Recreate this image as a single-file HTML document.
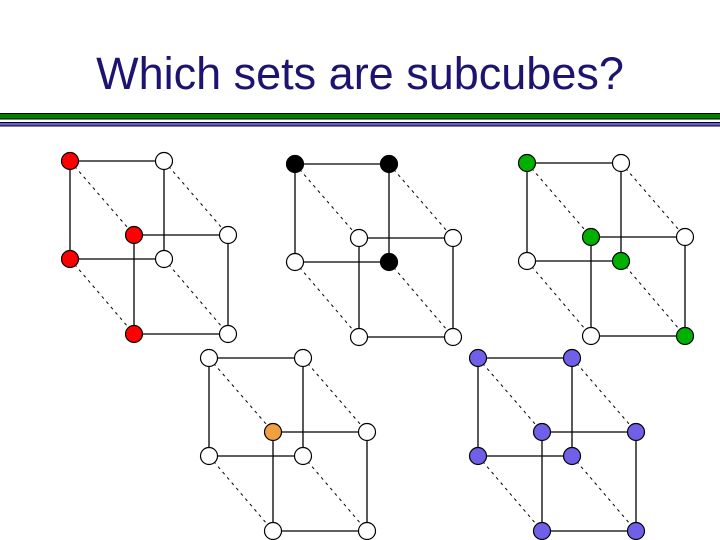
<!DOCTYPE html>
<html><head><style>
body{margin:0;width:720px;height:540px;background:#fff;overflow:hidden;position:relative;font-family:"Liberation Sans",sans-serif}
.t{position:absolute;left:0;width:720px;top:48px;text-align:center;font-size:45px;color:#1c1470;line-height:52px}
</style></head><body>
<div class="t">Which sets are subcubes?</div>
<svg width="720" height="540" style="position:absolute;left:0;top:0">
<rect x="-2" y="113.5" width="724" height="5.5" fill="#008000" stroke="#000" stroke-width="1"/>
<rect x="-2" y="122.5" width="724" height="3.5" fill="#6a5ae0" stroke="#000" stroke-width="1"/>
<defs>
<g id="c" stroke="#000" stroke-width="1.3" fill="none">
<line x1="70" y1="161" x2="164" y2="161"/><line x1="70" y1="161" x2="70" y2="259"/>
<line x1="70" y1="259" x2="164" y2="259"/><line x1="164" y1="161" x2="164" y2="259"/>
<line x1="134" y1="235" x2="228" y2="235"/><line x1="134" y1="235" x2="134" y2="334"/>
<line x1="134" y1="334" x2="228" y2="334"/><line x1="228" y1="235" x2="228" y2="334"/>
<g stroke-dasharray="3,4" stroke-width="1">
<line x1="70" y1="161" x2="134" y2="235"/><line x1="164" y1="161" x2="228" y2="235"/>
<line x1="70" y1="259" x2="134" y2="334"/><line x1="164" y1="259" x2="228" y2="334"/>
</g></g>
</defs>
<g stroke="#000" stroke-width="1.2">
<g><use href="#c"/>
<circle cx="70" cy="161" r="8.5" fill="#f00"/><circle cx="164" cy="161" r="8.5" fill="#fff"/>
<circle cx="70" cy="259" r="8.5" fill="#f00"/><circle cx="164" cy="259" r="8.5" fill="#fff"/>
<circle cx="134" cy="235" r="8.5" fill="#f00"/><circle cx="228" cy="235" r="8.5" fill="#fff"/>
<circle cx="134" cy="334" r="8.5" fill="#f00"/><circle cx="228" cy="334" r="8.5" fill="#fff"/></g>
<g transform="translate(225,3)"><use href="#c"/>
<circle cx="70" cy="161" r="8.5" fill="#000"/><circle cx="164" cy="161" r="8.5" fill="#000"/>
<circle cx="70" cy="259" r="8.5" fill="#fff"/><circle cx="164" cy="259" r="8.5" fill="#000"/>
<circle cx="134" cy="235" r="8.5" fill="#fff"/><circle cx="228" cy="235" r="8.5" fill="#fff"/>
<circle cx="134" cy="334" r="8.5" fill="#fff"/><circle cx="228" cy="334" r="8.5" fill="#fff"/></g>
<g transform="translate(457,2)"><use href="#c"/>
<circle cx="70" cy="161" r="8.5" fill="#00b000"/><circle cx="164" cy="161" r="8.5" fill="#fff"/>
<circle cx="70" cy="259" r="8.5" fill="#fff"/><circle cx="164" cy="259" r="8.5" fill="#00b000"/>
<circle cx="134" cy="235" r="8.5" fill="#00b000"/><circle cx="228" cy="235" r="8.5" fill="#fff"/>
<circle cx="134" cy="334" r="8.5" fill="#fff"/><circle cx="228" cy="334" r="8.5" fill="#00b000"/></g>
<g transform="translate(139,197)"><use href="#c"/>
<circle cx="70" cy="161" r="8.5" fill="#fff"/><circle cx="164" cy="161" r="8.5" fill="#fff"/>
<circle cx="70" cy="259" r="8.5" fill="#fff"/><circle cx="164" cy="259" r="8.5" fill="#fff"/>
<circle cx="134" cy="235" r="8.5" fill="#f0a040"/><circle cx="228" cy="235" r="8.5" fill="#fff"/>
<circle cx="134" cy="334" r="8.5" fill="#fff"/><circle cx="228" cy="334" r="8.5" fill="#fff"/></g>
<g transform="translate(408,197)" fill="#7060e8"><use href="#c"/>
<circle cx="70" cy="161" r="8.5"/><circle cx="164" cy="161" r="8.5"/>
<circle cx="70" cy="259" r="8.5"/><circle cx="164" cy="259" r="8.5"/>
<circle cx="134" cy="235" r="8.5"/><circle cx="228" cy="235" r="8.5"/>
<circle cx="134" cy="334" r="8.5"/><circle cx="228" cy="334" r="8.5"/></g>
</g>
</svg>
</body></html>
